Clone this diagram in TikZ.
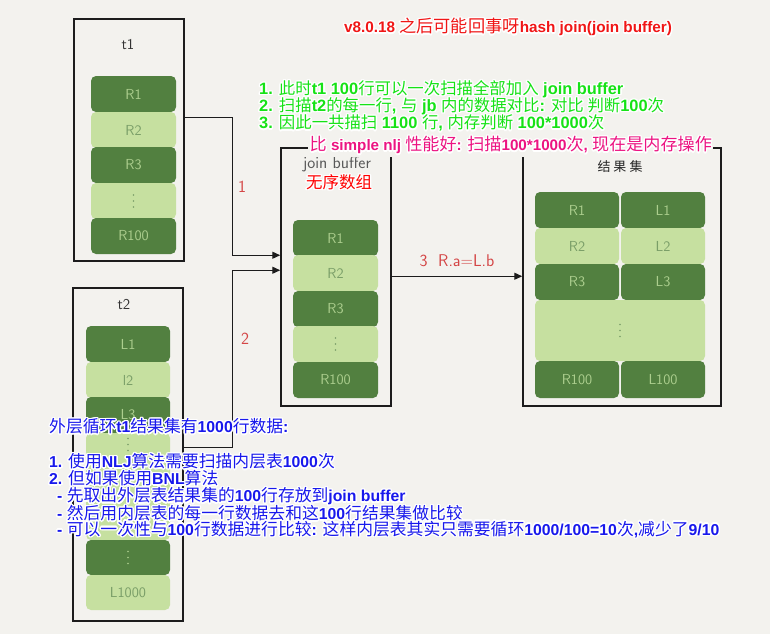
\documentclass[tikz,border=0pt]{standalone}
\usepackage{fontspec}
\usepackage{contour}
\usetikzlibrary{arrows.meta}
\newfontfamily\cjk{Noto Sans CJK SC}
\newfontfamily\lat{Liberation Sans}
\def\lasz{15}
\newcommand\la[1]{{\lat\bfseries\fontsize{\lasz}{\lasz}\selectfont #1}}
\newcommand\hl[1]{\contour{white}{#1}}
\contourlength{1.4pt}
\contournumber{16}
\definecolor{bg}{RGB}{243,242,238}
\definecolor{dkgreen}{RGB}{82,128,64}
\definecolor{ltgreen}{RGB}{198,224,160}
\definecolor{dktext}{RGB}{172,206,142}
\definecolor{lttext}{RGB}{122,158,104}
\definecolor{boxline}{RGB}{28,28,28}
\definecolor{hand}{RGB}{212,70,70}
\definecolor{titlered}{RGB}{240,22,22}
\definecolor{notegreen}{RGB}{22,226,22}
\definecolor{notepink}{RGB}{236,20,130}
\definecolor{noteblue}{RGB}{24,24,236}
% three small dots for an elided row
\newcommand\rowdots[2]{\fill [#2] ([yshift=6pt]#1) circle (0.9pt) (#1) circle (0.9pt) ([yshift=-6pt]#1) circle (0.9pt);}

\begin{document}
\begin{tikzpicture}[x=1pt,y=1pt,
  tbl/.style={draw=boxline,line width=1.5pt},
  dk/.style={fill=dkgreen,rounded corners=5pt,text=dktext,minimum width=85pt,minimum height=36pt,font=\sffamily\fontsize{14.5}{14.5}\selectfont},
  lt/.style={fill=ltgreen,rounded corners=5pt,text=lttext,minimum width=85pt,minimum height=36pt,font=\sffamily\fontsize{14.5}{14.5}\selectfont},
  handlbl/.style={text=hand,font=\sffamily\fontsize{17}{17}\selectfont},
  flow/.style={draw=boxline,line width=1.3pt,-{Triangle[length=8pt,width=7pt]}},
  titletxt/.style={text=titlered,font={\cjk\fontsize{17.2}{18}\selectfont\def\lasz{15.3}}},
  greentxt/.style={text=notegreen,anchor=west,font={\cjk\fontsize{16.4}{17}\selectfont\def\lasz{16.4}}},
  pinktxt/.style={text=notepink,anchor=west,fill=bg,inner sep=1.5pt,font={\cjk\fontsize{17.1}{18}\selectfont\def\lasz{15.2}}},
  bluetxt/.style={text=noteblue,anchor=west,font={\cjk\fontsize{16.8}{18}\selectfont\def\lasz{15.8}}}]
\tikzstyle{every node}+=[inner sep=0pt]
\useasboundingbox (0,0) rectangle (770,-634);
\fill [bg] (0,0) rectangle (770,-634);
% t1
\node [tbl,minimum width=110pt,minimum height=242pt] (t1) at (129,-140) {};
\node [font=\sffamily\fontsize{15}{15}\selectfont,text=black!80] (t1name) at (128,-45) {t1};
\node [dk] (t1r1) at (133.5,-94) {R1};
\node [lt] (t1r2) at (133.5,-130) {R2};
\node [dk] (t1r3) at (133.5,-165) {R3};
\node [lt] (t1r4) at (133.5,-201) {};
\node [dk] (t1r5) at (133.5,-236) {R100};
\rowdots{t1r4.center}{lttext}
% t2
\node [tbl,minimum width=110pt,minimum height=333pt] (t2) at (128,-454.5) {};
\node [font=\sffamily\fontsize{15}{15}\selectfont,text=black!80] (t2name) at (124,-305) {t2};
\node [dk,minimum width=84pt] (t2r1) at (128,-344) {L1};
\node [lt,minimum width=84pt] (t2r2) at (128,-380) {l2};
\node [dk,minimum width=84pt] (t2r3) at (128,-415) {L3};
\node [lt,minimum width=84pt,minimum height=107pt] (t2r4) at (128,-486.5) {};
\node [dk,minimum width=84pt,minimum height=35pt] (t2r5) at (128,-557.5) {};
\node [lt,minimum width=84pt,minimum height=35pt] (t2r6) at (128,-592.5) {L1000};
\coordinate (t2gap) at ([yshift=42pt]t2r4.center);
\rowdots{t2gap}{lttext}
\rowdots{t2r5.center}{dktext}
% join buffer
\node [tbl,minimum width=110pt,minimum height=258pt] (jb) at (336,-277) {};
\node [font=\sffamily\fontsize{17}{17}\selectfont,text=black!65] (jbname) at (337,-164) {join buffer};
\node [text=red,font=\cjk\fontsize{16.5}{16.5}\selectfont] (jbnote) at (339,-183) {\hl{无序数组}};
\node [dk] (jbr1) at (335.5,-238) {R1};
\node [lt] (jbr2) at (335.5,-273) {R2};
\node [dk] (jbr3) at (335.5,-309) {R3};
\node [lt] (jbr4) at (335.5,-344) {};
\node [dk] (jbr5) at (335.5,-380) {R100};
\rowdots{jbr4.center}{lttext}
% result set
\node [tbl,minimum width=198pt,minimum height=258pt] (res) at (622,-277) {};
\node [font=\cjk\fontsize{13}{13}\selectfont,text=black!85] (resname) at (620,-167) {结\hspace{3pt}果\hspace{3pt}集};
\node [dk,minimum width=84pt] (rsr1) at (577,-210) {R1};
\node [dk,minimum width=84pt] (rsl1) at (663,-210) {L1};
\node [lt,minimum width=84pt] (rsr2) at (577,-246) {R2};
\node [lt,minimum width=84pt] (rsl2) at (663,-246) {L2};
\node [dk,minimum width=84pt] (rsr3) at (577,-282) {R3};
\node [dk,minimum width=84pt] (rsl3) at (663,-282) {L3};
\node [lt,minimum width=170pt,minimum height=61pt] (rsdots) at (620,-330.5) {};
\node [dk,minimum width=84pt,minimum height=37pt] (rsr4) at (577,-379.5) {R100};
\node [dk,minimum width=84pt,minimum height=37pt] (rsl4) at (663,-379.5) {L100};
\rowdots{rsdots.center}{lttext}
% connectors
\draw [flow] ([yshift=-99pt]t1.north east) -- ++(48,0) |- ([yshift=-108pt]jb.north west);
\draw [flow] ([yshift=-160pt]t2.north east) -- ++(49,0) |- ([yshift=-123pt]jb.north west);
\draw [flow] ([yshift=-129pt]jb.north east) -- ([yshift=-129pt]res.north west);
\node [handlbl] (lbl1) at (242,-187) {1};
\node [handlbl] (lbl2) at (245,-339) {2};
\node [handlbl] (lbl3) at (457,-261) {3\ \ R.a=L.b};
% notes
\node [titletxt] (title) at (508,-28) {\hl{\la{v8.0.18 }之后可能回事呀\la{hash join(join buffer)}}};
\node [greentxt] (g1) at (259,-90) {\hl{\la{1. }此时\la{t1 100}行可以一次扫描全部加入\la{ join buffer}}};
\node [greentxt] (g2) at (259,-107) {\hl{\la{2. }扫描\la{t2}的每一行\la{, }与\la{ jb }内的数据对比\la{: }对比 判断\la{100}次}};
\node [greentxt] (g3) at (259,-124) {\hl{\la{3. }因此一共描扫\la{ 1100 }行\la{, }内存判断\la{ 100*1000}次}};
\node [pinktxt] (p1) at (308,-146) {\hl{比\la{ simple nlj }性能好\la{: }扫描\la{100*1000}次\la{, }现在是内存操作}};
\node [bluetxt] (b0) at (49,-427) {\hl{外层循环\la{t1}结果集有\la{1000}行数据\la{:}}};
\node [bluetxt] (b1) at (49,-462) {\hl{\la{1. }使用\la{NLJ}算法需要扫描内层表\la{1000}次}};
\node [bluetxt] (b2) at (49,-479) {\hl{\la{2. }但如果使用\la{BNL}算法}};
\node [bluetxt] (b3) at (57,-497) {\hl{\la{- }先取出外层表结果集的\la{100}行存放到\la{join buffer}}};
\node [bluetxt] (b4) at (57,-514) {\hl{\la{- }然后用内层表的每一行数据去和这\la{100}行结果集做比较}};
\node [bluetxt] (b5) at (57,-530) {\hl{\la{- }可以一次性与\la{100}行数据进行比较\la{: }这样内层表其实只需要循环\la{1000/100=10}次\la{,}减少了\la{9/10}}};
\end{tikzpicture}
\end{document}
